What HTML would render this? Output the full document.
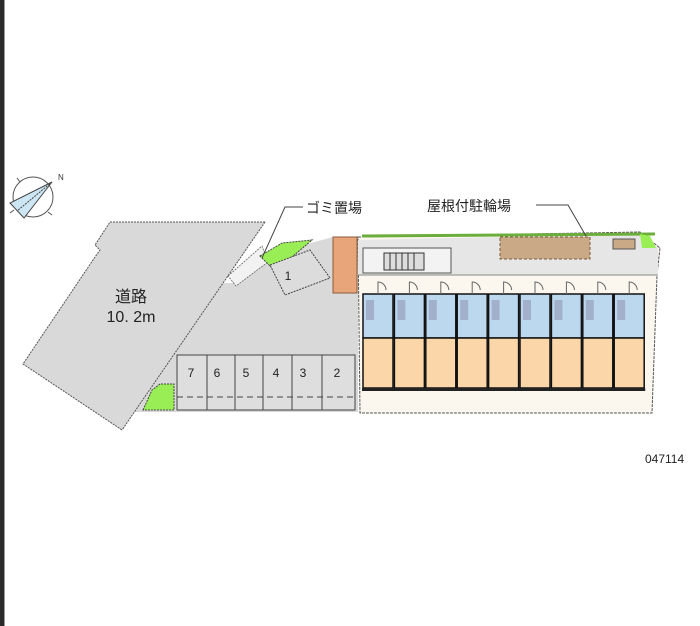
<!DOCTYPE html>
<html><head><meta charset="utf-8"><style>
html,body{margin:0;padding:0;background:#fff;}
svg{display:block}
text{font-family:"Liberation Sans","Noto Sans CJK JP",sans-serif;}
</style></head><body>
<svg width="700" height="626" viewBox="0 0 700 626" xmlns="http://www.w3.org/2000/svg">
<rect x="0" y="0" width="700" height="626" fill="#fff"/>
<rect x="0" y="0" width="4" height="626" fill="#2a2a2a"/>
<rect x="4" y="0" width="1" height="626" fill="#999"/>

<!-- compass -->
<g stroke="#555" stroke-width="1" fill="none">
<circle cx="33" cy="197" r="20"/>
<line x1="20" y1="182" x2="17" y2="178"/><line x1="48" y1="212" x2="52" y2="215"/>
<line x1="14" y1="210" x2="10" y2="213"/>
</g>
<polygon points="52,182 10,203 24,218" fill="#cde6f4" stroke="#444" stroke-width="1"/>
<line x1="52" y1="182" x2="17" y2="211" stroke="#444" stroke-dasharray="2,1"/>
<text x="58" y="180" font-size="8" fill="#333">N</text>

<!-- road -->
<polygon points="110,222 265,222 122,430 23,364 95,257 100,250 95,245" fill="#d9d9d9"/>
<polyline points="265,222 110,222 95,245 100,250 95,257 23,364 122,430" fill="none" stroke="#555" stroke-width="1" stroke-dasharray="2,1"/>
<text x="131" y="302" font-size="16" text-anchor="middle" fill="#222">道路</text>
<text x="131" y="322" font-size="16" text-anchor="middle" fill="#222">10. 2m</text>

<!-- lot -->
<polygon points="134,412 223,283 232,283 265,262 300,246 333,237 358,237 358,412" fill="#d9d9d9"/>
<line x1="265" y1="222" x2="122" y2="430" stroke="#555" stroke-dasharray="2,1"/>
<polygon points="228,276 262,246 268,262 236,286" fill="#f2f2f2" stroke="#666" stroke-width="0.8" stroke-dasharray="2,1"/>
<!-- green gomi -->
<polygon points="260,256 282,243 312,240 292,257 272,268" fill="#99ee55" stroke="#444" stroke-width="1" stroke-dasharray="2,1"/>
<!-- slot 1 -->
<polygon points="270,265 310,250 330,278 285,295" fill="#dcdcdc" stroke="#444" stroke-dasharray="2,1"/>
<text x="288" y="280" font-size="12" fill="#222" text-anchor="middle">1</text>
<!-- orange -->
<rect x="333" y="237" width="24" height="56" fill="#e8a57a" stroke="#8a5a3a" stroke-width="1"/>

<!-- parking row -->
<g stroke="#444" stroke-width="1">
<rect x="177" y="355" width="178" height="55" fill="#dedede"/>
<line x1="207" y1="355" x2="207" y2="410"/><line x1="235" y1="355" x2="235" y2="410"/>
<line x1="263" y1="355" x2="263" y2="410"/><line x1="292" y1="355" x2="292" y2="410"/>
<line x1="322" y1="355" x2="322" y2="410"/>
<line x1="177" y1="397" x2="355" y2="397" stroke-dasharray="6,4"/>
</g>
<g font-size="12" fill="#222" text-anchor="middle">
<text x="191" y="377">7</text><text x="217" y="377">6</text><text x="246" y="377">5</text>
<text x="276" y="377">4</text><text x="303" y="377">3</text><text x="337" y="377">2</text>
</g>
<polygon points="143,410 152,390 160,384 174,384 174,410" fill="#99ee55" stroke="#444" stroke-dasharray="2,1"/>

<!-- building -->
<polygon points="358,237 640,232 660,248 657,275 652,413 360,413" fill="#fbf7ee" stroke="#555" stroke-width="1" stroke-dasharray="3,1"/>
<polygon points="358,240 640,234 658,248 658,275 358,275" fill="#e6e6e6"/>
<line x1="358" y1="275" x2="658" y2="275" stroke="#888"/>
<line x1="362" y1="236" x2="655" y2="234" stroke="#6cae3c" stroke-width="3"/>
<polygon points="640,234 650,236 656,248 642,248" fill="#99ee55"/>
<rect x="363" y="248" width="88" height="25" fill="#f3f3f3" stroke="#555"/>
<rect x="384" y="253" width="40" height="17" fill="#ddd" stroke="#333"/>
<g stroke="#333"><line x1="390" y1="253" x2="390" y2="270"/><line x1="396" y1="253" x2="396" y2="270"/><line x1="402" y1="253" x2="402" y2="270"/><line x1="408" y1="253" x2="408" y2="270"/><line x1="414" y1="253" x2="414" y2="270"/></g>
<rect x="500" y="237" width="90" height="22" fill="#c9a986" stroke="#7a5a3a" stroke-dasharray="3,2"/>
<rect x="613" y="239" width="22" height="10" fill="#c9a986" stroke="#555"/>

<!-- units -->
<g id="u">
<rect x="363" y="294" width="30" height="44" fill="#bcd8ee" stroke="#111" stroke-width="1.5"/>
<rect x="363" y="338" width="30" height="50" fill="#fbd6a8" stroke="#111" stroke-width="1.5"/>
<rect x="366" y="300" width="8" height="20" fill="#88a" opacity="0.5"/>
<path d="M378,294 v-12 a8,8 0 0 1 8,8" fill="none" stroke="#666"/>
<rect x="362" y="388" width="32" height="3" fill="#222"/>
</g>
<use href="#u" x="31.4"/><use href="#u" x="62.8"/><use href="#u" x="94.2"/>
<use href="#u" x="125.6"/><use href="#u" x="157"/><use href="#u" x="188.4"/>
<use href="#u" x="219.8"/><use href="#u" x="251.2"/>

<!-- labels -->
<text x="306" y="213" font-size="14" fill="#222">ゴミ置場</text>
<polyline points="303,207 285,207 262,258" fill="none" stroke="#444" stroke-width="1"/>
<text x="427" y="211" font-size="14" fill="#222">屋根付駐輪場</text>
<polyline points="536,205 568,205 586,236" fill="none" stroke="#444" stroke-width="1"/>

<text x="645" y="463" font-size="12" fill="#222">047114</text>
</svg>
</body></html>
